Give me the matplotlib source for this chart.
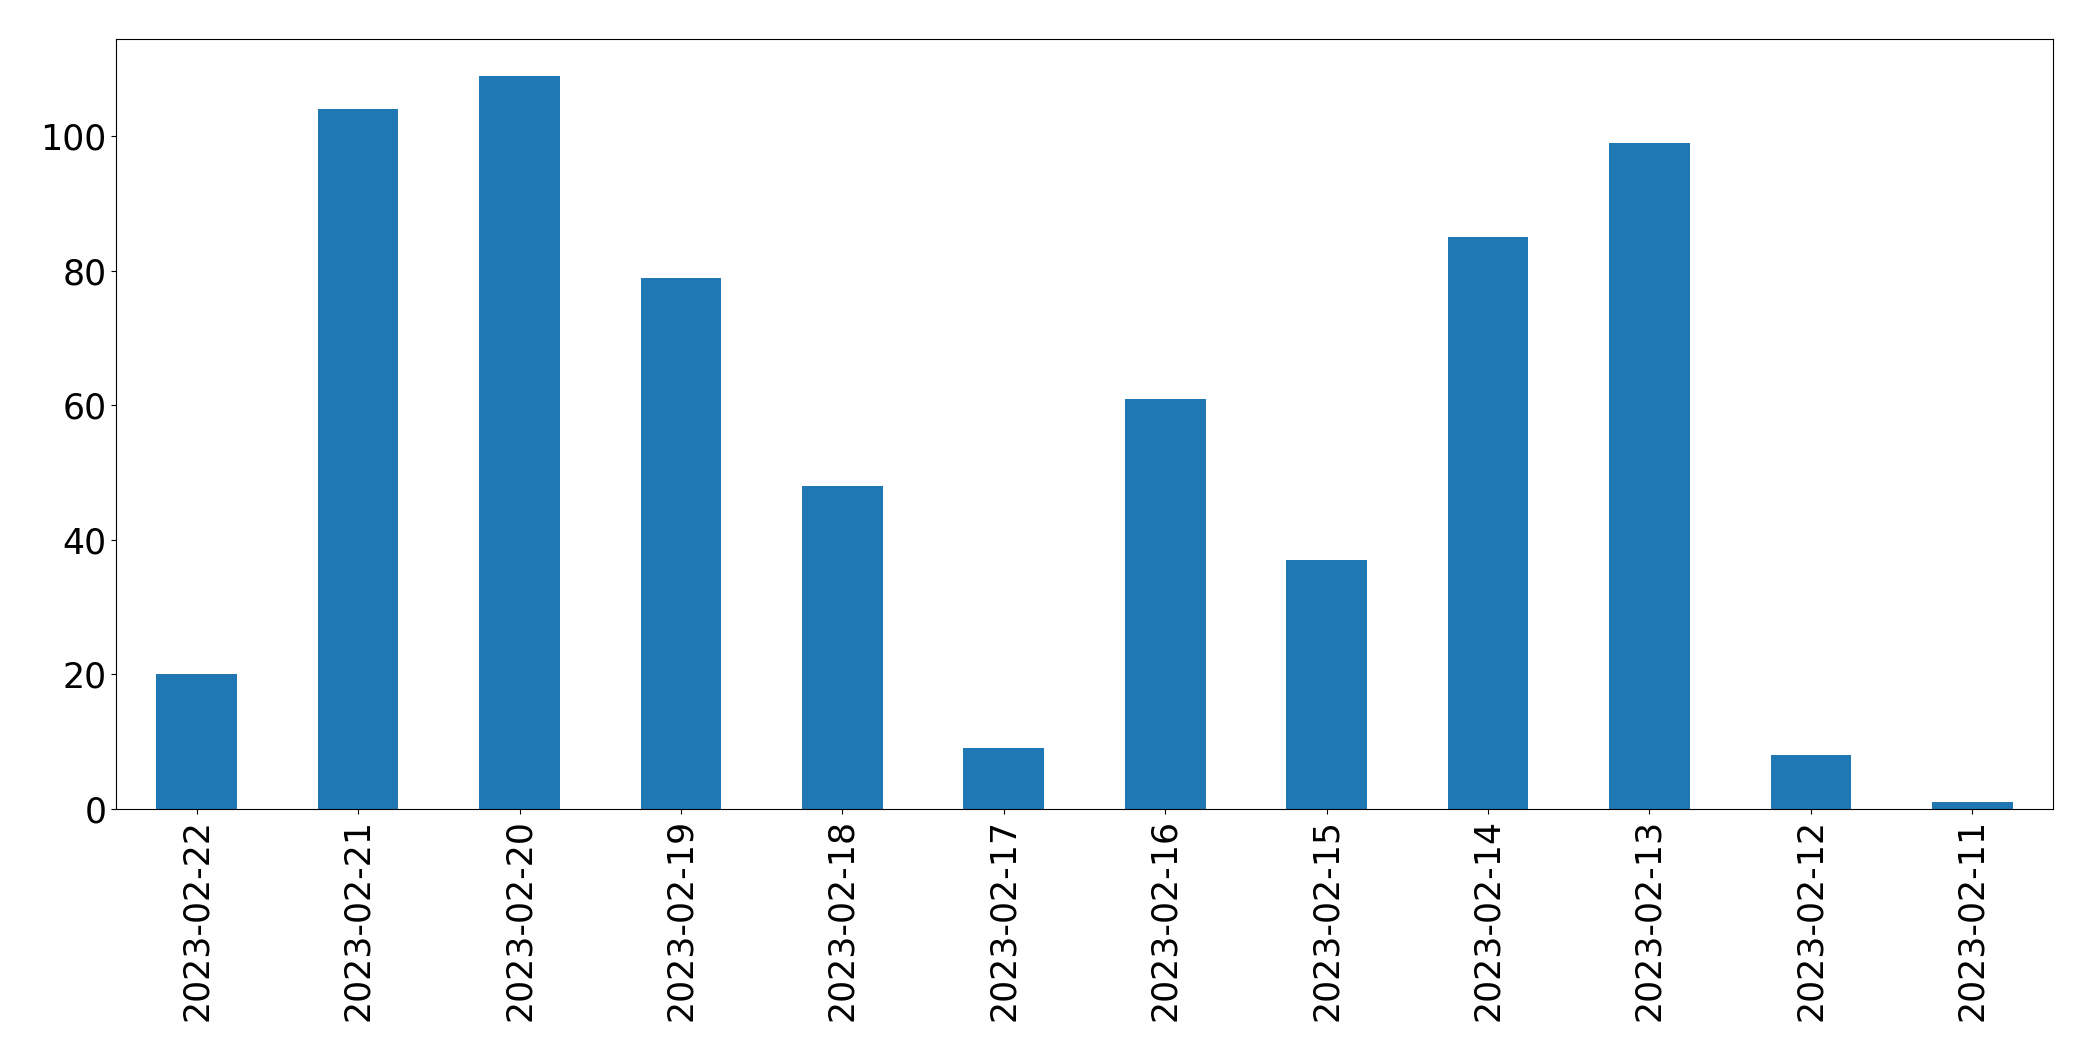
import matplotlib
matplotlib.use("Agg")
import matplotlib.pyplot as plt
import pandas as pd

dates = ["2023-02-22", "2023-02-21", "2023-02-20", "2023-02-19", "2023-02-18", "2023-02-17",
         "2023-02-16", "2023-02-15", "2023-02-14", "2023-02-13", "2023-02-12", "2023-02-11"]
counts = [20, 104, 109, 79, 48, 9, 61, 37, 85, 99, 8, 1]

s = pd.Series(counts, index=dates)

fig, ax = plt.subplots(figsize=(20.93, 10.61), dpi=100)
s.plot.bar(ax=ax, color="#1f77b4", fontsize=25)

fig.subplots_adjust(left=116 / 2093, right=2053 / 2093, top=1 - 39 / 1061, bottom=1 - 809 / 1061)
fig.savefig("out.png", dpi=100)
